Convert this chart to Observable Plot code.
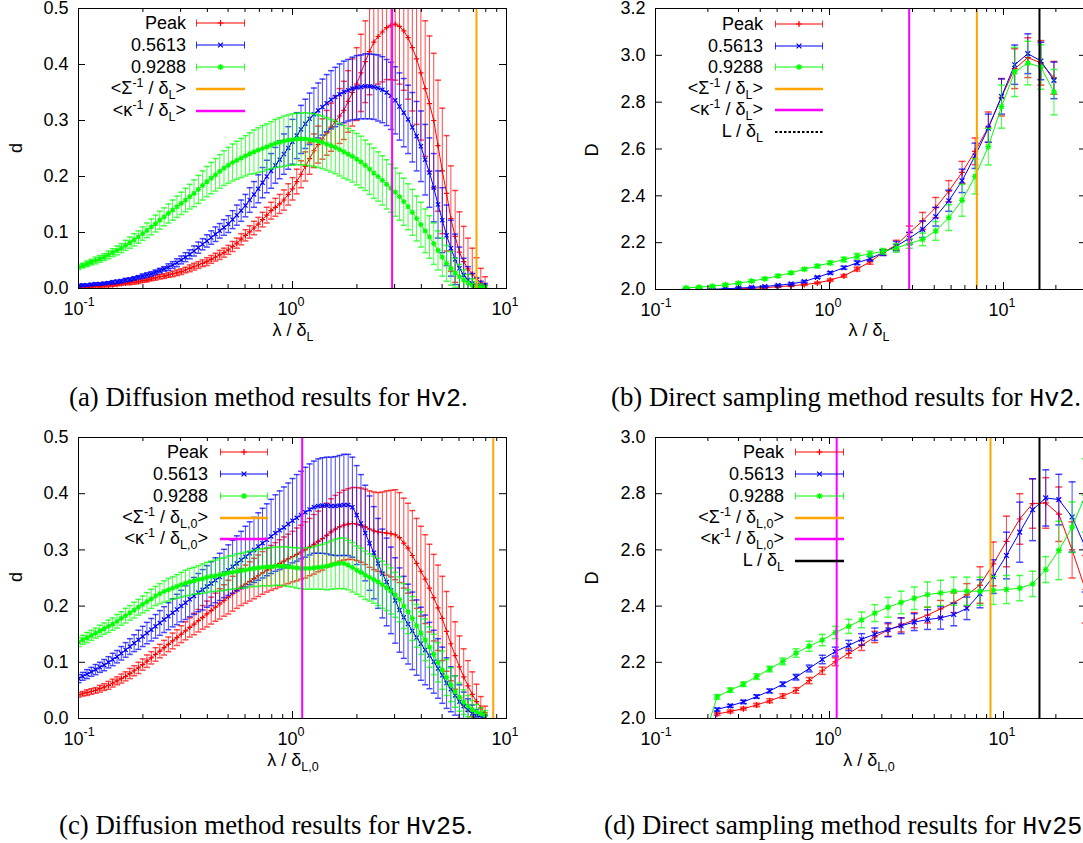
<!DOCTYPE html>
<html><head><meta charset="utf-8">
<script src="https://cdn.jsdelivr.net/npm/d3@7"></script>
<script src="https://cdn.jsdelivr.net/npm/@observablehq/plot@0.6"></script>
<style>
html,body{margin:0;padding:0;background:#fff;}
#root{position:relative;width:1083px;height:843px;overflow:hidden;background:#fff;font-family:"Liberation Sans",Arial,Helvetica,sans-serif;color:#000;}
.t{position:absolute;white-space:nowrap;font-size:18px;line-height:18px;}
.sup{font-size:12.5px;position:relative;top:-7px;}
.sub{font-size:12.5px;position:relative;top:5px;}
.cap{position:absolute;white-space:nowrap;font-family:"Liberation Serif","Times New Roman",serif;font-size:26.8px;line-height:28px;transform:translate(0,-50%);}
.mono{font-family:"Liberation Mono","Courier New",monospace;font-size:25px;}
</style></head>
<body><div id="root"></div>
<script>
// ---------------- DATA ----------------
const seriesNames = ["Peak", "0.5613", "0.9288"];

// wavelength grid for the diffusion method panels (a) and (c)
const lam = [0.1,0.1047,0.1096,0.1148,0.1202,0.1259,0.1318,0.138,0.1445,0.1514,0.1585,0.166,0.1738,0.182,0.1905,0.1995,0.2089,0.2188,0.2291,0.2399,0.2512,0.263,0.2754,0.2884,0.302,0.3162,0.3311,0.3467,0.3631,0.3802,0.3981,0.4169,0.4365,0.4571,0.4786,0.5012,0.5248,0.5495,0.5754,0.6026,0.631,0.6607,0.6918,0.7244,0.7586,0.7943,0.8318,0.871,0.912,0.955,1,1.047,1.096,1.148,1.202,1.259,1.318,1.38,1.445,1.514,1.585,1.66,1.738,1.82,1.905,1.995,2.089,2.188,2.291,2.399,2.512,2.63,2.754,2.884,3.02,3.162,3.311,3.467,3.631,3.802,3.981,4.169,4.365,4.571,4.786,5.012,5.248,5.495,5.754,6.026,6.31,6.607,6.918,7.244,7.586,7.943];

// (a) Hv2 diffusion
const aPeak = [0.002,0.002,0.003,0.003,0.004,0.004,0.005,0.005,0.006,0.007,
0.008,0.009,0.010,0.011,0.012,0.014,0.015,0.017,0.019,0.021,
0.022,0.024,0.026,0.028,0.030,0.033,0.036,0.039,0.042,0.045,
0.048,0.052,0.056,0.060,0.064,0.069,0.075,0.081,0.088,0.095,
0.101,0.108,0.115,0.123,0.131,0.139,0.145,0.151,0.158,0.168,
0.178,0.191,0.204,0.218,0.232,0.246,0.257,0.267,0.278,0.288,
0.298,0.308,0.318,0.334,0.350,0.365,0.385,0.405,0.423,0.440,
0.450,0.458,0.466,0.470,0.472,0.468,0.460,0.448,0.430,0.410,
0.385,0.357,0.330,0.300,0.255,0.210,0.170,0.125,0.093,0.065,
0.048,0.035,0.026,0.018,0.010,0.006];
const aPeakErr = [0.001,0.001,0.001,0.001,0.001,0.002,0.002,0.002,0.002,0.002,
0.002,0.002,0.003,0.003,0.003,0.003,0.003,0.003,0.004,0.004,
0.004,0.004,0.005,0.005,0.005,0.005,0.006,0.006,0.006,0.006,
0.007,0.007,0.007,0.008,0.008,0.008,0.009,0.009,0.010,0.010,
0.011,0.012,0.012,0.013,0.014,0.015,0.016,0.017,0.018,0.019,
0.020,0.022,0.024,0.026,0.028,0.030,0.033,0.036,0.040,0.043,
0.046,0.049,0.052,0.055,0.060,0.065,0.069,0.073,0.077,0.081,
0.085,0.089,0.093,0.097,0.100,0.103,0.106,0.110,0.113,0.117,
0.120,0.121,0.121,0.120,0.117,0.112,0.103,0.094,0.082,0.072,
0.063,0.055,0.046,0.037,0.026,0.015];
const a5613 = [0.005,0.006,0.006,0.007,0.008,0.008,0.009,0.010,0.011,0.012,
0.013,0.015,0.016,0.018,0.020,0.022,0.024,0.026,0.029,0.032,
0.035,0.038,0.042,0.046,0.051,0.056,0.061,0.067,0.073,0.079,
0.085,0.091,0.097,0.103,0.109,0.115,0.123,0.131,0.139,0.148,
0.158,0.168,0.178,0.189,0.200,0.210,0.220,0.230,0.240,0.251,
0.262,0.273,0.284,0.294,0.303,0.311,0.318,0.324,0.331,0.337,
0.342,0.347,0.351,0.354,0.357,0.359,0.360,0.361,0.361,0.360,
0.358,0.355,0.350,0.344,0.336,0.325,0.314,0.302,0.288,0.272,
0.254,0.230,0.207,0.180,0.150,0.122,0.095,0.072,0.052,0.036,
0.024,0.015,0.009,0.006,0.004,0.003];
const a5613Err = [0.002,0.002,0.002,0.002,0.002,0.002,0.002,0.002,0.003,0.003,
0.003,0.003,0.003,0.003,0.003,0.004,0.004,0.004,0.004,0.004,
0.004,0.006,0.006,0.007,0.007,0.008,0.008,0.009,0.010,0.010,
0.011,0.012,0.013,0.013,0.014,0.015,0.016,0.018,0.019,0.020,
0.022,0.023,0.025,0.027,0.029,0.031,0.032,0.034,0.036,0.038,
0.040,0.041,0.043,0.044,0.046,0.047,0.049,0.050,0.051,0.052,
0.053,0.054,0.055,0.055,0.056,0.057,0.057,0.058,0.058,0.058,
0.059,0.059,0.059,0.060,0.060,0.060,0.061,0.061,0.062,0.062,
0.063,0.063,0.062,0.061,0.060,0.058,0.054,0.050,0.045,0.038,
0.030,0.024,0.018,0.013,0.009,0.006];
const a9288 = [0.038,0.041,0.044,0.047,0.050,0.053,0.056,0.060,0.064,0.068,
0.072,0.077,0.082,0.087,0.092,0.098,0.104,0.110,0.116,0.122,
0.128,0.134,0.140,0.146,0.152,0.158,0.164,0.170,0.177,0.184,
0.191,0.197,0.203,0.209,0.215,0.220,0.225,0.229,0.233,0.237,
0.241,0.244,0.247,0.250,0.253,0.256,0.259,0.261,0.263,0.265,
0.266,0.267,0.267,0.267,0.266,0.265,0.263,0.261,0.258,0.255,
0.252,0.248,0.244,0.240,0.236,0.231,0.226,0.220,0.213,0.206,
0.200,0.193,0.186,0.179,0.172,0.164,0.155,0.146,0.136,0.125,
0.114,0.103,0.092,0.080,0.068,0.056,0.045,0.036,0.028,0.021,
0.015,0.010,0.006,0.004,0.002,0.001];
const a9288Err = [0.004,0.004,0.005,0.005,0.006,0.006,0.006,0.007,0.007,0.008,
0.008,0.009,0.010,0.011,0.011,0.012,0.013,0.014,0.015,0.016,
0.016,0.017,0.018,0.019,0.020,0.021,0.022,0.024,0.025,0.026,
0.027,0.028,0.029,0.030,0.031,0.032,0.033,0.034,0.035,0.036,
0.037,0.039,0.040,0.041,0.041,0.042,0.043,0.044,0.045,0.045,
0.046,0.046,0.046,0.047,0.047,0.047,0.047,0.047,0.047,0.047,
0.047,0.047,0.047,0.046,0.046,0.046,0.046,0.045,0.045,0.045,
0.044,0.044,0.044,0.043,0.043,0.042,0.042,0.041,0.041,0.040,
0.040,0.039,0.038,0.037,0.035,0.034,0.032,0.030,0.026,0.022,
0.018,0.015,0.011,0.008,0.006,0.004];

// (c) Hv25 diffusion
const cPeak = [0.042,0.044,0.046,0.048,0.050,0.053,0.056,0.059,0.063,0.067,
0.071,0.075,0.080,0.085,0.090,0.096,0.102,0.108,0.114,0.120,
0.126,0.132,0.138,0.144,0.150,0.156,0.162,0.168,0.174,0.180,
0.186,0.192,0.198,0.204,0.210,0.216,0.222,0.228,0.234,0.239,
0.244,0.249,0.254,0.259,0.264,0.268,0.272,0.276,0.280,0.284,
0.288,0.292,0.296,0.300,0.305,0.310,0.315,0.320,0.326,0.332,
0.337,0.341,0.344,0.346,0.347,0.346,0.344,0.341,0.337,0.334,
0.332,0.331,0.330,0.329,0.327,0.322,0.312,0.303,0.290,0.276,
0.262,0.248,0.232,0.215,0.197,0.178,0.155,0.133,0.112,0.092,
0.074,0.058,0.043,0.030,0.019,0.010];
const cPeakErr = [0.004,0.004,0.005,0.005,0.005,0.006,0.006,0.007,0.007,0.007,
0.008,0.008,0.009,0.009,0.010,0.010,0.011,0.011,0.012,0.012,
0.013,0.013,0.014,0.014,0.015,0.016,0.017,0.019,0.020,0.021,
0.023,0.024,0.025,0.027,0.028,0.030,0.031,0.032,0.033,0.034,
0.035,0.036,0.037,0.038,0.039,0.040,0.041,0.042,0.043,0.044,
0.045,0.047,0.048,0.050,0.051,0.053,0.054,0.056,0.057,0.059,
0.060,0.061,0.062,0.063,0.064,0.065,0.066,0.067,0.068,0.069,
0.070,0.072,0.075,0.077,0.080,0.080,0.080,0.080,0.080,0.080,
0.080,0.079,0.078,0.077,0.076,0.075,0.071,0.066,0.060,0.055,
0.050,0.045,0.040,0.031,0.020,0.012];
const c5613 = [0.071,0.075,0.079,0.083,0.087,0.091,0.095,0.100,0.105,0.110,
0.116,0.122,0.128,0.134,0.140,0.146,0.152,0.158,0.164,0.170,
0.176,0.182,0.188,0.194,0.200,0.206,0.212,0.218,0.224,0.229,
0.235,0.240,0.246,0.252,0.258,0.264,0.270,0.276,0.282,0.288,
0.294,0.300,0.306,0.312,0.318,0.324,0.330,0.335,0.340,0.346,
0.352,0.357,0.362,0.367,0.372,0.376,0.378,0.379,0.379,0.378,
0.378,0.379,0.380,0.380,0.376,0.362,0.347,0.330,0.312,0.295,
0.276,0.258,0.243,0.228,0.210,0.193,0.180,0.168,0.156,0.144,
0.133,0.122,0.112,0.101,0.089,0.077,0.063,0.052,0.041,0.030,
0.022,0.015,0.009,0.005,0.002,0.001];
const c5613Err = [0.007,0.007,0.008,0.008,0.009,0.009,0.010,0.010,0.011,0.011,
0.012,0.013,0.014,0.015,0.017,0.018,0.019,0.020,0.021,0.022,
0.023,0.024,0.025,0.027,0.028,0.030,0.031,0.033,0.034,0.036,
0.037,0.039,0.040,0.042,0.043,0.045,0.047,0.049,0.051,0.054,
0.056,0.058,0.060,0.062,0.064,0.066,0.068,0.070,0.072,0.073,
0.075,0.077,0.078,0.080,0.081,0.082,0.084,0.085,0.086,0.087,
0.088,0.089,0.090,0.090,0.089,0.088,0.087,0.085,0.084,0.082,
0.080,0.079,0.078,0.077,0.076,0.075,0.073,0.071,0.069,0.067,
0.065,0.062,0.059,0.056,0.053,0.050,0.045,0.040,0.035,0.030,
0.025,0.020,0.015,0.011,0.008,0.005];
const c9288 = [0.136,0.140,0.144,0.148,0.152,0.156,0.160,0.164,0.168,0.173,
0.178,0.183,0.188,0.193,0.198,0.203,0.208,0.213,0.218,0.222,
0.226,0.229,0.232,0.235,0.238,0.241,0.243,0.245,0.247,0.249,
0.251,0.253,0.254,0.256,0.257,0.259,0.260,0.262,0.263,0.264,
0.266,0.267,0.268,0.269,0.270,0.270,0.271,0.271,0.271,0.270,
0.269,0.268,0.267,0.267,0.267,0.268,0.269,0.270,0.271,0.273,
0.275,0.276,0.276,0.273,0.269,0.264,0.260,0.255,0.251,0.247,
0.243,0.238,0.233,0.227,0.220,0.212,0.200,0.190,0.178,0.165,
0.152,0.140,0.127,0.114,0.100,0.086,0.073,0.060,0.048,0.038,
0.029,0.022,0.016,0.012,0.009,0.006];
const c9288Err = [0.008,0.008,0.009,0.009,0.009,0.010,0.010,0.011,0.011,0.012,
0.012,0.013,0.013,0.014,0.014,0.015,0.016,0.017,0.017,0.018,
0.019,0.020,0.020,0.021,0.022,0.023,0.024,0.024,0.025,0.026,
0.027,0.027,0.028,0.029,0.029,0.030,0.030,0.031,0.031,0.032,
0.032,0.032,0.033,0.033,0.034,0.034,0.034,0.034,0.035,0.035,
0.035,0.036,0.036,0.037,0.037,0.038,0.039,0.040,0.042,0.043,
0.044,0.045,0.045,0.044,0.044,0.043,0.043,0.043,0.042,0.042,
0.042,0.042,0.041,0.041,0.040,0.040,0.040,0.039,0.039,0.038,
0.038,0.037,0.036,0.036,0.035,0.034,0.032,0.030,0.028,0.025,
0.022,0.019,0.016,0.013,0.010,0.008];

// (b) Hv2 direct sampling
const lamB = [0.150,0.178,0.212,0.252,0.300,0.357,0.425,0.506,0.602,0.716,0.852,1.01,1.21,1.44,1.71,2.03,2.42,2.88,3.43,4.08,4.85,5.78,6.87,8.18,9.74,11.6,13.8,16.4,19.5];
const bPeak = [2.0,2.0,2.0,2.001,2.003,2.005,2.008,2.012,2.016,2.021,2.028,2.04,2.058,2.087,2.118,2.158,2.19,2.243,2.293,2.35,2.42,2.5,2.59,2.693,2.821,2.943,2.99,2.968,2.904];
const bPeakErr = [0.002,0.002,0.002,0.002,0.002,0.003,0.003,0.003,0.003,0.004,0.004,0.005,0.006,0.008,0.01,0.012,0.02,0.028,0.036,0.043,0.045,0.047,0.057,0.065,0.08,0.085,0.085,0.095,0.07];
const b5613 = [2.0,2.0,2.001,2.003,2.006,2.009,2.013,2.018,2.024,2.034,2.052,2.071,2.093,2.114,2.132,2.157,2.185,2.219,2.257,2.311,2.379,2.464,2.571,2.689,2.824,2.96,3.007,2.976,2.893];
const b5613Err = [0.002,0.002,0.002,0.002,0.003,0.003,0.003,0.003,0.004,0.004,0.004,0.005,0.006,0.008,0.01,0.012,0.02,0.025,0.035,0.04,0.045,0.05,0.054,0.06,0.075,0.084,0.085,0.08,0.078];
const b9288 = [2.007,2.01,2.014,2.02,2.027,2.036,2.046,2.058,2.071,2.087,2.10,2.114,2.128,2.142,2.152,2.163,2.177,2.196,2.214,2.25,2.307,2.381,2.483,2.61,2.781,2.929,2.967,2.95,2.843];
const b9288Err = [0.004,0.004,0.004,0.005,0.005,0.005,0.005,0.006,0.006,0.006,0.007,0.008,0.01,0.012,0.012,0.012,0.018,0.02,0.027,0.04,0.055,0.068,0.075,0.078,0.092,0.105,0.093,0.095,0.097];

// (d) Hv25 direct sampling
const lamD = [0.190,0.226,0.269,0.320,0.381,0.453,0.539,0.642,0.764,0.909,1.08,1.29,1.53,1.82,2.17,2.58,3.07,3.66,4.35,5.18,6.16,7.33,8.73,10.4,12.4,14.7,17.5,20.8,24.8,29.5];
const dPeak = [1.90,2.016,2.025,2.035,2.048,2.063,2.08,2.10,2.135,2.17,2.202,2.232,2.26,2.29,2.315,2.333,2.35,2.368,2.39,2.412,2.44,2.475,2.55,2.63,2.71,2.765,2.767,2.727,2.60,2.46];
const dPeakErr = [0.01,0.005,0.005,0.005,0.006,0.007,0.008,0.01,0.011,0.013,0.014,0.016,0.018,0.02,0.022,0.025,0.027,0.028,0.03,0.035,0.04,0.065,0.078,0.09,0.09,0.088,0.09,0.097,0.1,0.12];
const d5613 = [1.80,2.032,2.045,2.059,2.078,2.098,2.122,2.147,2.178,2.21,2.238,2.26,2.282,2.30,2.316,2.33,2.343,2.352,2.358,2.37,2.392,2.444,2.505,2.58,2.663,2.743,2.785,2.779,2.717,2.61];
const d5613Err = [0.01,0.005,0.005,0.006,0.006,0.007,0.008,0.01,0.012,0.015,0.016,0.018,0.02,0.022,0.025,0.028,0.03,0.035,0.04,0.04,0.04,0.05,0.06,0.083,0.107,0.11,0.1,0.09,0.125,0.16];
const d9288 = [1.93,2.077,2.101,2.122,2.149,2.176,2.203,2.233,2.257,2.279,2.306,2.328,2.351,2.375,2.396,2.413,2.428,2.441,2.447,2.453,2.453,2.453,2.456,2.459,2.464,2.479,2.53,2.598,2.681,2.794];
const d9288Err = [0.01,0.008,0.008,0.008,0.01,0.01,0.012,0.015,0.018,0.02,0.022,0.025,0.028,0.03,0.035,0.04,0.04,0.045,0.045,0.05,0.05,0.05,0.05,0.05,0.045,0.045,0.046,0.104,0.09,0.13];

// reference lengths (vertical lines): [<Σ^-1/δ>, <κ^-1/δ>, L/δL]
const refA = [7.24, 2.92];
const refB = [7.03, 2.87, 16.1];
const refC = [8.67, 1.11];
const refD = [8.42, 1.10, 16.1];

// axes ticks
const xMajor = [0.1, 1, 10];
const xMajorExp = ["-1", "0", "1"];
const xMinorAC = [0.2,0.3,0.4,0.5,0.6,0.7,0.8,0.9,2,3,4,5,6,7,8,9];
const xMinorBD = [0.2,0.3,0.4,0.5,0.6,0.7,0.8,0.9,2,3,4,5,6,7,8,9,20];
const yTicksAC = [0, 0.1, 0.2, 0.3, 0.4, 0.5];
const yTicksB = [2.0, 2.2, 2.4, 2.6, 2.8, 3.0, 3.2];
const yTicksD = [2.0, 2.2, 2.4, 2.6, 2.8, 3.0];

// ---------------- STYLE ----------------
const SERIES_COLORS = ["#ff0000", "#0000ff", "#00ff00"];
const REF_COLORS = ["#ffa500", "#ff00ff", "#000000"];
function symR(s){ return Math.sqrt(s / Math.PI); }
const SYM = {
  plus: {draw(c, s){ const r = symR(s); c.moveTo(-r,0); c.lineTo(r,0); c.moveTo(0,-r); c.lineTo(0,r); }},
  times: {draw(c, s){ const r = symR(s)*0.8; c.moveTo(-r,-r); c.lineTo(r,r); c.moveTo(-r,r); c.lineTo(r,-r); }},
  star: {draw(c, s){ const r = symR(s); const q = r*0.75; c.moveTo(-r,0); c.lineTo(r,0); c.moveTo(0,-r); c.lineTo(0,r); c.moveTo(-q,-q); c.lineTo(q,q); c.moveTo(-q,q); c.lineTo(q,-q); }},
  cap: {draw(c, s){ const r = symR(s); c.moveTo(-r,0); c.lineTo(r,0); }}
};
const SERIES_SYMS = [SYM.plus, SYM.times, SYM.star];
const SYM_PATHS = ["M-3,0H3M0,-3V3", "M-2.4,-2.4L2.4,2.4M-2.4,2.4L2.4,-2.4", "M-3,0H3M0,-3V3M-2.2,-2.2L2.2,2.2M-2.2,2.2L2.2,-2.2"];

const root = document.getElementById("root");

function buildPanel(cfg) {
  const {xs, vals, errs, refs, xDomain, yDomain, yTicks, xMinor, lay, capR, markR} = cfg;
  const h = lay.height - lay.mt - lay.mb, w = lay.width - lay.ml - lay.mr;
  const marks = [];
  vals.forEach((vs, si) => {
    const rows = xs.map((x, i) => ({x, v: vs[i], e: errs[si][i]}));
    const c = SERIES_COLORS[si];
    marks.push(
      Plot.ruleX(rows, {x: "x", y1: d => d.v - d.e, y2: d => d.v + d.e, stroke: c, strokeOpacity: 0.72, strokeWidth: 1, clip: true}),
      Plot.dot(rows, {x: "x", y: d => d.v - d.e, symbol: SYM.cap, r: capR, stroke: c, strokeOpacity: 0.72, fill: "none", clip: true}),
      Plot.dot(rows, {x: "x", y: d => d.v + d.e, symbol: SYM.cap, r: capR, stroke: c, strokeOpacity: 0.72, fill: "none", clip: true}),
      Plot.line(rows, {x: "x", y: "v", stroke: c, strokeWidth: 1, clip: true}),
      Plot.dot(rows, {x: "x", y: "v", symbol: SERIES_SYMS[si], r: markR, stroke: c, strokeWidth: 1.2, fill: "none", clip: true})
    );
  });
  refs.forEach((rx, ri) => {
    marks.push(Plot.ruleX([rx], {x: d => d, stroke: REF_COLORS[ri], strokeWidth: 2}));
  });
  marks.push(
    Plot.tickX(xMajor, {x: d => d, insetTop: h - 7, stroke: "#000"}),
    Plot.tickX(xMajor, {x: d => d, insetBottom: h - 7, stroke: "#000"}),
    Plot.tickX(xMinor, {x: d => d, insetTop: h - 4, stroke: "#000"}),
    Plot.tickX(xMinor, {x: d => d, insetBottom: h - 4, stroke: "#000"}),
    Plot.tickY(yTicks, {y: d => d, insetRight: w - 7, stroke: "#000"}),
    Plot.tickY(yTicks, {y: d => d, insetLeft: w - 7, stroke: "#000"}),
    Plot.frame({stroke: "#000", strokeWidth: 1}),
    Plot.text(yTicks, {y: d => d, text: d => d.toFixed(1), frameAnchor: "left", textAnchor: "end", dx: -10, fontSize: 18}),
    Plot.text(xMajor, {x: d => d, text: () => "10", frameAnchor: "bottom", textAnchor: "end", dx: 5, dy: 21, fontSize: 18, lineAnchor: "middle"}),
    Plot.text(xMajor, {x: d => d, text: (d, i) => xMajorExp[i], frameAnchor: "bottom", textAnchor: "start", dx: 5, dy: 13, fontSize: 12.5, lineAnchor: "middle"})
  );
  const svg = Plot.plot({
    width: lay.width, height: lay.height,
    marginTop: lay.mt, marginRight: lay.mr, marginBottom: lay.mb, marginLeft: lay.ml,
    x: {type: "log", domain: xDomain, axis: null},
    y: {domain: yDomain, axis: null},
    style: {fontFamily: '"Liberation Sans", Arial, sans-serif', fontSize: "18px", background: "transparent", maxWidth: "none", color: "#000"},
    marks
  });
  const div = document.createElement("div");
  div.style.cssText = `position:absolute;left:${lay.left}px;top:${lay.top}px;`;
  div.appendChild(svg);
  root.appendChild(div);
}

function addText(html, x, y, anchor, extra) {
  const d = document.createElement("div");
  d.className = "t";
  d.innerHTML = html;
  const tx = anchor === "end" ? "-100%" : anchor === "start" ? "0" : "-50%";
  d.style.left = x + "px";
  d.style.top = y + "px";
  d.style.transform = `translate(${tx},-50%)` + (extra || "");
  root.appendChild(d);
  return d;
}

function legend(entries, textRight, sx0, sx1, rowsY) {
  entries.forEach((en, i) => {
    const y = rowsY[i];
    addText(en.html, textRight, y, "end");
    const wd = sx1 - sx0;
    let inner = "";
    if (en.series != null) {
      const c = SERIES_COLORS[en.series];
      inner = `<line x1="0" y1="7" x2="${wd}" y2="7" stroke="${c}" stroke-width="1"/>` +
        `<line x1="0.5" y1="3.5" x2="0.5" y2="10.5" stroke="${c}" stroke-opacity="0.8"/>` +
        `<line x1="${wd-0.5}" y1="3.5" x2="${wd-0.5}" y2="10.5" stroke="${c}" stroke-opacity="0.8"/>` +
        `<path transform="translate(${wd/2},7)" d="${SYM_PATHS[en.series]}" stroke="${c}" fill="none" stroke-width="1.2"/>`;
    } else {
      inner = `<line x1="0" y1="7" x2="${wd}" y2="7" stroke="${REF_COLORS[en.ref]}" stroke-width="${en.dash ? 2 : 2.5}" ${en.dash ? 'stroke-dasharray="2.5,2"' : ""}/>`;
    }
    const s = document.createElement("div");
    s.style.cssText = `position:absolute;left:${sx0}px;top:${y-7}px;width:${wd}px;height:14px;`;
    s.innerHTML = `<svg width="${wd}" height="14" style="display:block">${inner}</svg>`;
    root.appendChild(s);
  });
}

function caption(html, x, y) {
  const d = document.createElement("div");
  d.className = "cap";
  d.innerHTML = html;
  d.style.left = x + "px";
  d.style.top = y + "px";
  root.appendChild(d);
}

// ---------------- PANELS ----------------
const layA = {left: 0, top: 0, width: 540, height: 340, mt: 8, mr: 34, mb: 52, ml: 78};
const layB = {left: 540, top: 0, width: 560, height: 340, mt: 8, mr: 14, mb: 51, ml: 115};
const layC = {left: 0, top: 420, width: 540, height: 340, mt: 17, mr: 34, mb: 42, ml: 78};
const layD = {left: 540, top: 420, width: 560, height: 340, mt: 17, mr: 14, mb: 42, ml: 115};

buildPanel({xs: lam, vals: [aPeak, a5613, a9288], errs: [aPeakErr, a5613Err, a9288Err], refs: refA,
  xDomain: [0.1, 10], yDomain: [0, 0.5], yTicks: yTicksAC, xMinor: xMinorAC, lay: layA, capR: 3, markR: 2.6});
buildPanel({xs: lamB, vals: [bPeak, b5613, b9288], errs: [bPeakErr, b5613Err, b9288Err], refs: refB,
  xDomain: [0.1, 30], yDomain: [2.0, 3.2], yTicks: yTicksB, xMinor: xMinorBD, lay: layB, capR: 3.5, markR: 3});
buildPanel({xs: lam, vals: [cPeak, c5613, c9288], errs: [cPeakErr, c5613Err, c9288Err], refs: refC,
  xDomain: [0.1, 10], yDomain: [0, 0.5], yTicks: yTicksAC, xMinor: xMinorAC, lay: layC, capR: 3, markR: 2.6});
buildPanel({xs: lamD, vals: [dPeak, d5613, d9288], errs: [dPeakErr, d5613Err, d9288Err], refs: refD,
  xDomain: [0.1, 30], yDomain: [2.0, 3.0], yTicks: yTicksD, xMinor: xMinorBD, lay: layD, capR: 3.5, markR: 3});

// ---------------- TEXT ----------------
const sub = s => `<span class="sub">${s}</span>`;
const sup = s => `<span class="sup">${s}</span>`;
const lamLabel = s => `λ / δ${sub(s)}`;
const sigmaLabel = s => `&lt;Σ${sup("-1")} / δ${sub(s)}&gt;`;
const kappaLabel = s => `&lt;κ${sup("-1")} / δ${sub(s)}&gt;`;
const LLabel = `L / δ${sub("L")}`;

// axis titles
addText("d", 16, 148, "middle", " rotate(-90deg)");
addText("D", 592, 150, "middle", " rotate(-90deg)");
addText("d", 16, 577, "middle", " rotate(-90deg)");
addText("D", 592, 578, "middle", " rotate(-90deg)");
addText(lamLabel("L"), 293, 331, "middle");
addText(lamLabel("L"), 869, 331, "middle");
addText(lamLabel("L,0"), 293, 761, "middle");
addText(lamLabel("L,0"), 869, 761, "middle");

// legends
const seriesEntries = seriesNames.map((n, i) => ({html: n, series: i}));
legend([...seriesEntries, {html: sigmaLabel("L"), ref: 0}, {html: kappaLabel("L"), ref: 1}],
  186, 196, 245, [23, 45, 67, 89, 111]);
legend([...seriesEntries, {html: sigmaLabel("L"), ref: 0}, {html: kappaLabel("L"), ref: 1}, {html: LLabel, ref: 2, dash: true}],
  763, 775, 823, [24, 46, 67, 89, 110, 132]);
legend([...seriesEntries, {html: sigmaLabel("L,0"), ref: 0}, {html: kappaLabel("L,0"), ref: 1}],
  208, 220, 268, [452, 474, 496, 518, 539]);
legend([...seriesEntries, {html: sigmaLabel("L,0"), ref: 0}, {html: kappaLabel("L,0"), ref: 1}, {html: LLabel, ref: 2}],
  784, 795, 844, [452, 474, 496, 518, 539, 561]);

// captions
caption(`(a) Diffusion method results for <span class="mono">Hv2</span>.`, 69, 398);
caption(`(b) Direct sampling method results for <span class="mono">Hv2</span>.`, 611, 398);
caption(`(c) Diffusion method results for <span class="mono">Hv25</span>.`, 59, 826);
caption(`(d) Direct sampling method results for <span class="mono">Hv25</span>.`, 604, 826);
</script></body></html>
